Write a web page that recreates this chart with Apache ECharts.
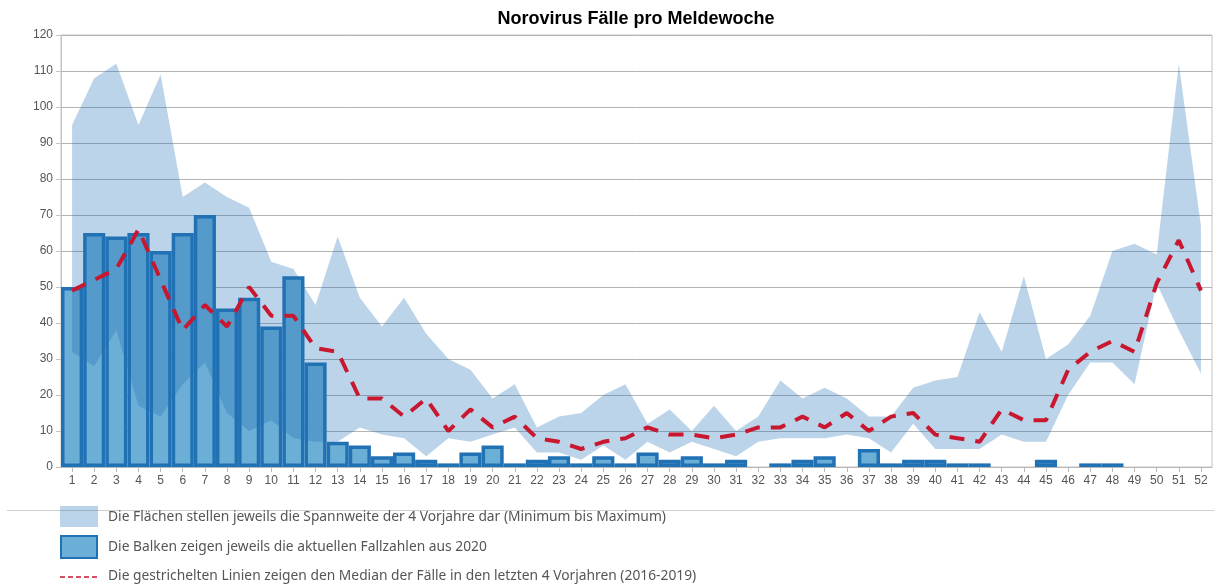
<!DOCTYPE html>
<html>
<head>
<meta charset="utf-8">
<script src="https://cdn.jsdelivr.net/npm/echarts@6/dist/echarts.min.js"></script>
<style>
html,body{margin:0;padding:0;background:#fff;}
#chart{width:1214px;height:586px;}
</style>
</head>
<body>
<div id="chart"></div>
<script>
const weeks = ['1','2','3','4','5','6','7','8','9','10','11','12','13','14','15','16','17','18','19','20','21','22','23','24','25','26','27','28','29','30','31','32','33','34','35','36','37','38','39','40','41','42','43','44','45','46','47','48','49','50','51','52'];
const yTicks = [0,10,20,30,40,50,60,70,80,90,100,110,120];
const cases2020 = [50,65,64,65,60,65,70,44,47,39,53,29,7,6,3,4,2,1,4,6,1,2,3,1,3,1,4,2,3,1,2,0,1,2,3,0,5,1,2,2,1,1,0,0,2,0,1,1,0,0,0,0];
const rangeMin = [32,28,38,17,14,23,29,15,10,13,8,7,7,11,9,8,3,8,7,9,11,4,4,2,6,2,7,4,7,5,3,7,8,8,8,9,8,4,12,5,5,5,9,7,7,20,29,29,23,51,38,26];
const rangeMax = [95,108,112,95,109,75,79,75,72,57,55,45,64,47,39,47,37,30,27,19,23,11,14,15,20,23,12,16,10,17,10,14,24,19,22,19,14,14,22,24,25,43,32,53,30,34,42,60,62,59,112,67];
const median = [49,52,55,66,52,38,45,39,50,42,42,33,32,19,19,14,19,10,16,11,14,8,7,5,7,8,11,9,9,8,9,11,11,14,11,15,10,14,15,9,8,7,16,13,13,27,32,35,32,51,63,49];

const titleText = 'Norovirus Fälle pro Meldewoche';
const legendTexts = [
  'Die Flächen stellen jeweils die Spannweite der 4 Vorjahre dar (Minimum bis Maximum)',
  'Die Balken zeigen jeweils die aktuellen Fallzahlen aus 2020',
  'Die gestrichelten Linien zeigen den Median der Fälle in den letzten 4 Vorjahren (2016-2019)'
];

const BAND = 'rgba(33,113,181,0.3)';
const BAR_FILL = '#6baed6';
const BAR_EDGE = '#2171b5';
const RED = '#c8172f';
const LEG_FONT = '13.8px "Noto Sans", sans-serif';

const chart = echarts.init(document.getElementById('chart'), null, {renderer: 'canvas'});
const spanData = rangeMax.map((v, i) => v - rangeMin[i]);
const barData = cases2020.map(v => v === 0 ? {value: 0, itemStyle: {borderWidth: 0}} : v);

chart.setOption({
  animation: false,
  backgroundColor: '#fff',
  title: {
    text: titleText,
    left: 631,
    top: 5,
    textAlign: 'center',
    textStyle: {fontFamily: '"Liberation Sans", Arial, sans-serif', fontWeight: 'bold', fontSize: 18, color: '#000'}
  },
  grid: {left: 61, right: 2, top: 35, bottom: 119, show: true, borderColor: '#c4c4c4', borderWidth: 1, containLabel: false},
  xAxis: {
    type: 'category',
    data: weeks,
    boundaryGap: true,
    axisLine: {show: true, lineStyle: {color: '#b8b8b8', width: 1}},
    axisTick: {show: true, alignWithLabel: true, length: 5, lineStyle: {color: '#b8b8b8'}},
    axisLabel: {interval: 0, margin: 8, color: '#555', fontSize: 12, fontFamily: '"Liberation Sans", Arial, sans-serif'},
    splitLine: {show: false}
  },
  yAxis: {
    type: 'value',
    min: yTicks[0],
    max: yTicks[yTicks.length - 1],
    interval: 10,
    axisLine: {show: true, lineStyle: {color: '#c4c4c4'}},
    axisTick: {show: true, length: 5, lineStyle: {color: '#c4c4c4'}},
    axisLabel: {margin: 8, color: '#555', fontSize: 12, fontFamily: '"Liberation Sans", Arial, sans-serif'},
    splitLine: {show: true, lineStyle: {color: '#b4b4b4', width: 1}}
  },
  series: [
    {
      name: '2020',
      type: 'bar',
      data: barData,
      barCategoryGap: '0%',
      z: 2,
      itemStyle: {color: BAR_FILL, borderColor: BAR_EDGE, borderWidth: 3.5},
      silent: true
    },
    {
      name: 'min',
      type: 'line',
      stack: 'band',
      data: rangeMin,
      showSymbol: false,
      symbol: 'none',
      lineStyle: {width: 0, opacity: 0},
      areaStyle: {opacity: 0},
      z: 3,
      silent: true
    },
    {
      name: 'Spannweite',
      type: 'line',
      stack: 'band',
      data: spanData,
      showSymbol: false,
      symbol: 'none',
      lineStyle: {width: 0, opacity: 0},
      areaStyle: {color: BAND, opacity: 1},
      z: 3,
      silent: true
    },
    {
      name: 'Median',
      type: 'line',
      data: median,
      showSymbol: false,
      symbol: 'none',
      lineStyle: {color: RED, width: 4, type: [15, 11]},
      z: 4,
      silent: true
    }
  ],
  graphic: [
    {type: 'line', shape: {x1: 7, y1: 510.5, x2: 1214, y2: 510.5}, style: {stroke: '#cfcfcf', lineWidth: 1}, z: 1},
    {type: 'rect', shape: {x: 60, y: 506, width: 38, height: 21}, style: {fill: BAND}, z: 2},
    {type: 'rect', shape: {x: 61, y: 536, width: 36, height: 22}, style: {fill: BAR_FILL, stroke: BAR_EDGE, lineWidth: 2}, z: 2},
    {type: 'line', shape: {x1: 60, y1: 577, x2: 98, y2: 577}, style: {stroke: RED, lineWidth: 1.4, lineDash: [5, 3]}, z: 2},
    {type: 'text', x: 108, y: 517, style: {text: legendTexts[0], font: LEG_FONT, fill: '#555', verticalAlign: 'middle'}, z: 2},
    {type: 'text', x: 108, y: 547, style: {text: legendTexts[1], font: LEG_FONT, fill: '#555', verticalAlign: 'middle'}, z: 2},
    {type: 'text', x: 108, y: 576, style: {text: legendTexts[2], font: LEG_FONT, fill: '#555', verticalAlign: 'middle'}, z: 2}
  ]
});
</script>
</body>
</html>
